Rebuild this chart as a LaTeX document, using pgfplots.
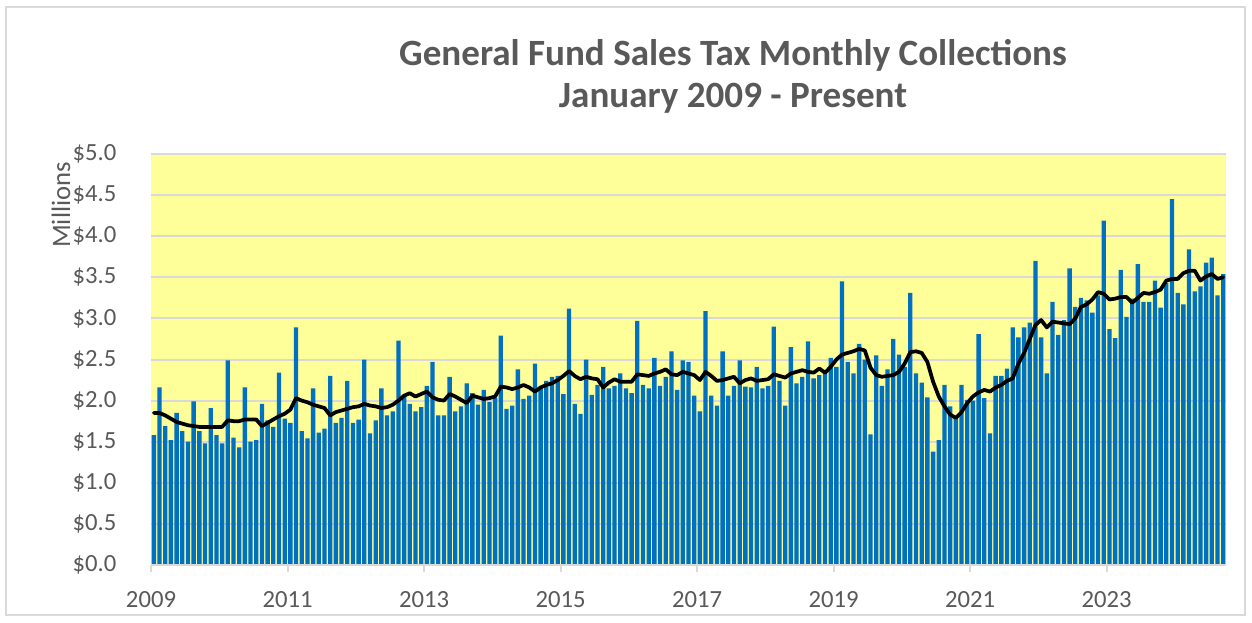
\documentclass[border=0pt]{standalone}
\usepackage{fontspec}
\setmainfont{Carlito}
\usepackage{pgfplots}
\usepackage{pgfplotstable}
\pgfplotsset{compat=1.18}
\definecolor{plotyellow}{HTML}{FFFF99}
\definecolor{barblue}{HTML}{0070C0}
\definecolor{gridgray}{HTML}{D9D9D9}
\definecolor{textgray}{HTML}{595959}

\pgfplotstableread{
m s a
0 1.58 1.85
1 2.16 1.85
2 1.69 1.82
3 1.52 1.78
4 1.85 1.74
5 1.63 1.72
6 1.50 1.70
7 1.99 1.69
8 1.63 1.68
9 1.48 1.68
10 1.91 1.68
11 1.58 1.68
12 1.48 1.68
13 2.49 1.76
14 1.55 1.75
15 1.43 1.75
16 2.16 1.77
17 1.50 1.77
18 1.52 1.77
19 1.96 1.69
20 1.76 1.73
21 1.68 1.77
22 2.34 1.81
23 1.78 1.84
24 1.73 1.89
25 2.89 2.03
26 1.63 2.00
27 1.54 1.98
28 2.15 1.95
29 1.61 1.93
30 1.66 1.91
31 2.30 1.82
32 1.73 1.86
33 1.79 1.88
34 2.24 1.90
35 1.73 1.92
36 1.77 1.93
37 2.50 1.96
38 1.60 1.94
39 1.76 1.93
40 2.15 1.91
41 1.82 1.92
42 1.87 1.95
43 2.73 2.00
44 2.05 2.06
45 1.96 2.09
46 1.87 2.05
47 1.92 2.08
48 2.18 2.11
49 2.47 2.04
50 1.82 2.01
51 1.82 2.00
52 2.29 2.08
53 1.87 2.05
54 1.93 2.01
55 2.21 1.97
56 2.09 2.06
57 1.95 2.04
58 2.13 2.02
59 1.98 2.03
60 2.03 2.05
61 2.79 2.17
62 1.90 2.16
63 1.94 2.14
64 2.38 2.16
65 2.02 2.19
66 2.06 2.16
67 2.45 2.11
68 2.16 2.16
69 2.24 2.19
70 2.29 2.21
71 2.30 2.25
72 2.08 2.30
73 3.12 2.36
74 1.96 2.30
75 1.84 2.26
76 2.50 2.29
77 2.07 2.27
78 2.19 2.26
79 2.41 2.16
80 2.15 2.22
81 2.18 2.26
82 2.33 2.23
83 2.15 2.23
84 2.09 2.23
85 2.97 2.32
86 2.19 2.31
87 2.15 2.30
88 2.52 2.33
89 2.18 2.35
90 2.29 2.38
91 2.60 2.32
92 2.13 2.31
93 2.49 2.35
94 2.47 2.33
95 2.06 2.31
96 1.87 2.25
97 3.09 2.35
98 2.06 2.30
99 1.94 2.24
100 2.60 2.25
101 2.06 2.27
102 2.18 2.29
103 2.49 2.21
104 2.17 2.25
105 2.16 2.27
106 2.41 2.24
107 2.15 2.25
108 2.18 2.26
109 2.90 2.32
110 2.24 2.30
111 1.94 2.28
112 2.65 2.33
113 2.21 2.35
114 2.29 2.37
115 2.72 2.35
116 2.27 2.34
117 2.31 2.39
118 2.35 2.34
119 2.52 2.41
120 2.41 2.50
121 3.45 2.56
122 2.47 2.58
123 2.33 2.60
124 2.69 2.63
125 2.50 2.61
126 1.59 2.40
127 2.55 2.31
128 2.18 2.29
129 2.38 2.30
130 2.75 2.31
131 2.56 2.35
132 2.41 2.45
133 3.31 2.59
134 2.33 2.60
135 2.22 2.58
136 2.04 2.47
137 1.38 2.23
138 1.52 2.05
139 2.19 1.93
140 1.93 1.83
141 1.78 1.79
142 2.19 1.86
143 2.01 1.97
144 2.00 2.05
145 2.81 2.10
146 2.03 2.13
147 1.60 2.11
148 2.30 2.16
149 2.30 2.19
150 2.39 2.24
151 2.89 2.27
152 2.77 2.45
153 2.89 2.58
154 2.95 2.75
155 3.70 2.92
156 2.77 2.98
157 2.33 2.89
158 3.20 2.96
159 2.80 2.95
160 2.98 2.94
161 3.61 2.93
162 3.14 3.00
163 3.25 3.14
164 3.22 3.17
165 3.07 3.23
166 3.28 3.32
167 4.19 3.30
168 2.87 3.23
169 2.76 3.24
170 3.59 3.26
171 3.02 3.26
172 3.24 3.19
173 3.66 3.25
174 3.20 3.31
175 3.20 3.30
176 3.46 3.32
177 3.13 3.35
178 3.43 3.46
179 4.45 3.48
180 3.31 3.48
181 3.17 3.55
182 3.84 3.58
183 3.33 3.58
184 3.39 3.46
185 3.68 3.51
186 3.74 3.54
187 3.28 3.48
188 3.54 3.50
}\data

\begin{document}
\begin{tikzpicture}[x=0.75pt,y=0.75pt]
\path (0,0) rectangle (1252,622);
\draw[gridgray, line width=1pt] (6,7) rectangle (1245,615);
\node[anchor=base, text=textgray, font=\fontsize{27.8}{33}\selectfont\bfseries] at (733,556) {General Fund Sales Tax Monthly Collections};
\node[anchor=base, text=textgray, font=\fontsize{27.8}{33}\selectfont\bfseries] at (733,514) {January 2009 - Present};
\node[rotate=90, text=textgray, font=\fontsize{20}{24}\selectfont] at (61,417) {Millions};
\begin{axis}[
  at={(113.25pt,42.75pt)}, anchor=south west,
  scale only axis, width=806.25pt, height=308.25pt,
  xmin=-0.5, xmax=188.5, ymin=0, ymax=5,
  axis background/.style={fill=plotyellow},
  axis line style={draw=none},
  ymajorgrids, major grid style={gridgray, line width=1.5pt},
  ytick={0,0.5,1,1.5,2,2.5,3,3.5,4,4.5,5},
  yticklabels={\$0.0,\$0.5,\$1.0,\$1.5,\$2.0,\$2.5,\$3.0,\$3.5,\$4.0,\$4.5,\$5.0},
  ytick style={draw=none},
  xtick={-0.5,23.5,47.5,71.5,95.5,119.5,143.5,167.5},
  xticklabels={2009,2011,2013,2015,2017,2019,2021,2023},
  xtick pos=bottom, tick align=outside,
  major tick length=5.25pt,
  xtick style={gridgray, line width=1.5pt},
  yticklabel style={font=\fontsize{18.5}{22}\selectfont, text=textgray, inner sep=0pt, anchor=east, xshift=-20.5pt},
  xticklabel style={font=\fontsize{18.5}{22}\selectfont, text=textgray, inner sep=0pt, anchor=north, yshift=-14.5pt},
  clip=false,
]
\addplot[ybar, bar width=0.76, fill=barblue, draw=none] table[x=m,y=s]{\data};
\draw[gridgray, line width=1.5pt] (axis cs:-0.5,0) -- (axis cs:188.5,0);
\addplot[black, line width=2.8pt, line join=round, line cap=round] table[x=m,y=a]{\data};
\end{axis}
\end{tikzpicture}
\end{document}
